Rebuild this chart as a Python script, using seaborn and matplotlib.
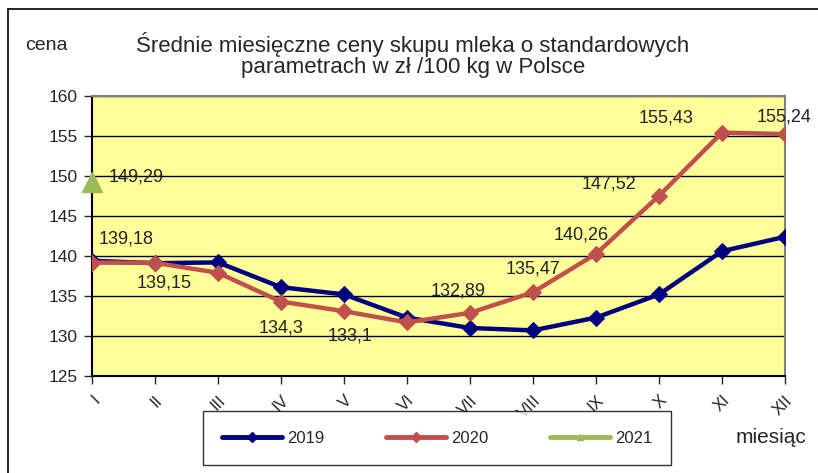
import numpy as np
import pandas as pd
import seaborn as sns
import matplotlib.pyplot as plt
from matplotlib.lines import Line2D

# Data
months = ["I", "II", "III", "IV", "V", "VI", "VII", "VIII", "IX", "X", "XI", "XII"]
prices_2019 = [139.4, 139.1, 139.2, 136.1, 135.2, 132.3, 131.0, 130.7, 132.3, 135.2, 140.6, 142.4]
prices_2020 = [139.18, 139.15, 137.9, 134.3, 133.1, 131.7, 132.89, 135.47, 140.26, 147.52, 155.43, 155.24]
prices_2021 = [149.29]

# labels shown on the 2020 series (month index, text, pixel offset)
labels_2020 = {0: "139,18", 1: "139,15", 3: "134,3", 4: "133,1", 6: "132,89",
               7: "135,47", 8: "140,26", 9: "147,52", 10: "155,43", 11: "155,24"}
label_offsets = {0: (34, 24), 1: (9, -20), 3: (0, -26), 4: (6, -25), 6: (-12, 22),
                 7: (0, 23), 8: (-15, 19), 9: (-50, 12), 10: (-56, 15), 11: (-1, 17)}

colors = {"2019": "#000080", "2020": "#C0504D", "2021": "#9BBB59"}

sns.set_theme(style="white")
plt.rcParams["font.family"] = ["Liberation Sans", "DejaVu Sans"]

fig = plt.figure(figsize=(8.18, 4.73), dpi=100)
ax = fig.add_axes([92 / 818, 97 / 473, 693 / 818, 280 / 473])
ax.set_facecolor("#FFFF99")

df = pd.concat([
    pd.DataFrame({"x": range(len(prices_2019)), "cena": prices_2019, "rok": "2019"}),
    pd.DataFrame({"x": range(len(prices_2020)), "cena": prices_2020, "rok": "2020"}),
])
for rok in ["2019", "2020"]:
    sub = df[df["rok"] == rok]
    sns.lineplot(data=sub, x="x", y="cena", ax=ax, color=colors[rok], lw=3.2,
                 marker="D", markersize=8.5, markeredgecolor=colors[rok], legend=False, zorder=3)
ax.plot(range(len(prices_2021)), prices_2021, marker="^", markersize=15, color=colors["2021"],
        lw=0, zorder=4, clip_on=False)

for i, txt in labels_2020.items():
    ax.annotate(txt, (i, prices_2020[i]), xytext=label_offsets[i], textcoords="offset pixels",
                ha="center", va="center", fontsize=13, color="#222222", zorder=5)
ax.annotate("149,29", (0, prices_2021[0]), xytext=(17, 5), textcoords="offset pixels",
            ha="left", va="center", fontsize=13, color="#222222", zorder=5)

ax.set_xlim(0, 11)
ax.set_ylim(125, 160)
ax.set_yticks(np.arange(125, 161, 5))
ax.set_xticks(range(12))
ax.set_xticklabels(months, rotation=45, ha="right", rotation_mode="anchor", fontsize=12)
ax.tick_params(axis="y", labelsize=12.5, length=6, width=1, direction="out", left=True, pad=4)
ax.tick_params(axis="x", length=6, width=1, direction="out", bottom=True, pad=6)
ax.grid(axis="y", color="black", lw=1)
ax.set_axisbelow(True)
ax.set_xlabel("")
ax.set_ylabel("")
for s in ["top", "right"]:
    ax.spines[s].set_color("#808080")
    ax.spines[s].set_linewidth(1.5)
for s in ["left", "bottom"]:
    ax.spines[s].set_color("black")
    ax.spines[s].set_linewidth(1.5)

fig.text(413 / 818, 1 - 55 / 473,
         "Średnie miesięczne ceny skupu mleka o standardowych\nparametrach w zł /100 kg w Polsce",
         ha="center", va="center", fontsize=16, linespacing=1.0)
fig.text(25 / 818, 1 - 45 / 473, "cena", ha="left", va="center", fontsize=14)
fig.text(771 / 818, 1 - 437 / 473, "miesiąc", ha="center", va="center", fontsize=15)

handles = [Line2D([], [], color=colors[k], lw=3.5, marker=m, markersize=5)
           for k, m in [("2019", "D"), ("2020", "D"), ("2021", "^")]]
leg = fig.legend(handles, ["2019", "2020", "2021"], loc="center", ncol=3,
                 bbox_to_anchor=(437 / 818, 1 - 438 / 473), frameon=True, fontsize=12,
                 handlelength=3.6, handletextpad=0.3, columnspacing=3.7, borderpad=1.15,
                 fancybox=False)
leg.get_frame().set_edgecolor("black")
leg.get_frame().set_linewidth(1)

# outer chart border (top and left edges visible)
fig.add_artist(Line2D([8 / 818, 8 / 818], [0, 1 - 9 / 473], transform=fig.transFigure, color="black", lw=1.2))
fig.add_artist(Line2D([8 / 818, 1], [1 - 9 / 473, 1 - 9 / 473], transform=fig.transFigure, color="black", lw=1.2))

fig.savefig("out.png", dpi=100)
